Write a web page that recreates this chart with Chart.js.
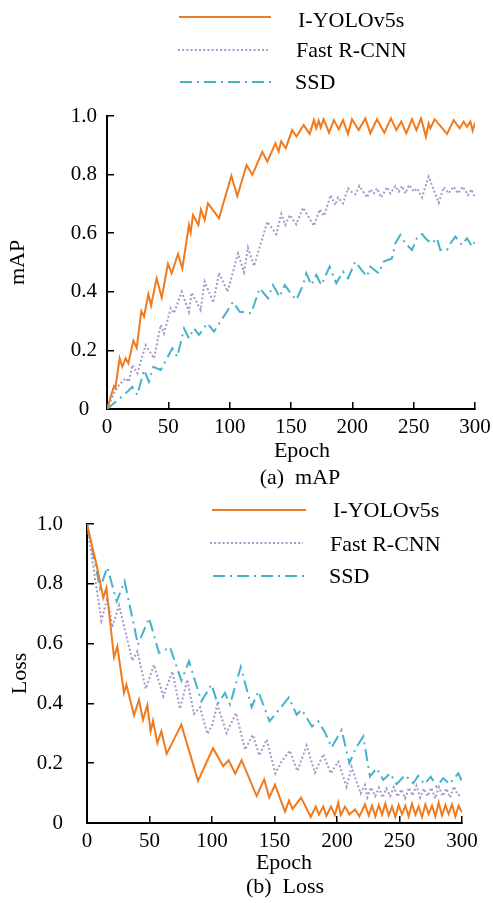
<!DOCTYPE html>
<html>
<head>
<meta charset="utf-8">
<script src="https://cdn.jsdelivr.net/npm/chart.js@4.4.1/dist/chart.umd.min.js"></script>
<style>
  html, body { margin: 0; padding: 0; background: #ffffff; }
  body { width: 493px; height: 903px; position: relative; overflow: hidden; }
  #wrapA { position: absolute; left: 0; top: 0; width: 493px; height: 495px; }
  #wrapB { position: absolute; left: 0; top: 495px; width: 493px; height: 408px; }
</style>
</head>
<body>
<div id="wrapA"><canvas id="chartA" width="493" height="495"></canvas></div>
<div id="wrapB"><canvas id="chartB" width="493" height="408"></canvas></div>
<script>
// ---------------- data ----------------
const seriesNames = ['I-YOLOv5s', 'Fast R-CNN', 'SSD'];
const xTicks = [0, 50, 100, 150, 200, 250, 300];
const yTicks = [0, 0.2, 0.4, 0.6, 0.8, 1.0];

// (a) mAP
const mapYoloEpoch = [0, 5.7, 6.8, 10.3, 12.5, 15.2, 17.4, 21.5, 24.2, 28, 30.2, 33.7, 35.9, 40.5, 44.6, 49.7, 52.7, 57.9, 61.4, 66.8, 68.2, 70.1, 74.5, 76.6, 79.6, 82.3, 91.3, 101.4, 106.2, 113.8, 118.5, 126.6, 130.7, 137.3, 139.9, 142, 145.7, 150.9, 154.5, 160.3, 165.2, 168.7, 170.6, 172.6, 174.2, 176.6, 181, 185, 188.9, 192.4, 196.5, 199.7, 205.2, 210.6, 214.7, 220.1, 226.1, 231.5, 235.9, 239.9, 244, 248.6, 252.2, 256, 260, 262.2, 263.6, 267.1, 277.2, 282.6, 287.5, 290.8, 293.5, 296.2, 298.1, 300];
const mapYoloValue = [0, 0.078, 0.072, 0.173, 0.144, 0.173, 0.156, 0.233, 0.209, 0.334, 0.315, 0.392, 0.353, 0.446, 0.380, 0.495, 0.463, 0.529, 0.480, 0.628, 0.602, 0.662, 0.628, 0.681, 0.645, 0.702, 0.651, 0.796, 0.726, 0.833, 0.799, 0.878, 0.844, 0.907, 0.879, 0.914, 0.890, 0.952, 0.930, 0.969, 0.939, 0.986, 0.958, 0.984, 0.961, 0.989, 0.943, 0.986, 0.955, 0.986, 0.939, 0.989, 0.952, 0.992, 0.941, 0.989, 0.943, 0.992, 0.952, 0.981, 0.941, 0.989, 0.952, 0.992, 0.929, 0.975, 0.958, 0.989, 0.939, 0.986, 0.958, 0.981, 0.963, 0.981, 0.950, 0.977];

const mapRcnnEpoch = [0, 5.7, 9.8, 15.2, 17.9, 20.6, 24.7, 31.5, 38.3, 43.8, 46.5, 51.9, 54.6, 60.9, 66.8, 69, 76.4, 79.6, 86.7, 91.3, 98.3, 106.8, 111.7, 114.9, 119.8, 130.7, 138, 142.1, 145.4, 148.9, 154.3, 159.8, 168.7, 173.4, 176.9, 182.4, 186.1, 188.3, 192.4, 196.5, 199.7, 202.5, 205.7, 212, 214.7, 217.4, 220.1, 223.6, 228.3, 231, 235, 237.8, 240.5, 243.2, 246.4, 250, 252.7, 256.8, 262.2, 270.4, 274.5, 278.5, 282.6, 286.1, 290, 294.3, 297, 300];
const mapRcnnValue = [0, 0.054, 0.082, 0.105, 0.093, 0.150, 0.122, 0.218, 0.173, 0.287, 0.258, 0.344, 0.327, 0.400, 0.332, 0.397, 0.338, 0.435, 0.363, 0.465, 0.400, 0.531, 0.467, 0.551, 0.488, 0.639, 0.597, 0.666, 0.628, 0.662, 0.630, 0.687, 0.625, 0.681, 0.659, 0.730, 0.696, 0.722, 0.702, 0.753, 0.740, 0.733, 0.761, 0.722, 0.750, 0.736, 0.753, 0.722, 0.757, 0.736, 0.761, 0.742, 0.761, 0.736, 0.765, 0.742, 0.753, 0.722, 0.793, 0.704, 0.757, 0.736, 0.759, 0.736, 0.759, 0.730, 0.750, 0.722];

const mapSsdEpoch = [0, 7.1, 13.9, 20.6, 24.7, 30.2, 34.2, 37.8, 43.8, 53.2, 57.3, 62.8, 66.8, 70.9, 75, 81.8, 87.2, 100.3, 102.7, 108.2, 117.6, 121.7, 124.5, 131.2, 135.3, 140.8, 144.9, 148.9, 154.3, 159.8, 162.5, 166.6, 170.6, 174.7, 181.5, 186.9, 192.4, 196.5, 202.4, 206.5, 212, 214.7, 221.5, 225.6, 232.3, 235, 239.1, 243.2, 248.6, 252.7, 256.8, 260.9, 265, 269, 271.7, 277.2, 279.9, 284, 289.4, 293.5, 297.6, 300];
const mapSsdValue = [0, 0.025, 0.048, 0.076, 0.048, 0.133, 0.093, 0.144, 0.133, 0.207, 0.178, 0.275, 0.241, 0.275, 0.253, 0.292, 0.264, 0.349, 0.366, 0.332, 0.327, 0.378, 0.412, 0.378, 0.423, 0.383, 0.423, 0.400, 0.372, 0.423, 0.463, 0.423, 0.457, 0.423, 0.486, 0.429, 0.469, 0.446, 0.503, 0.480, 0.452, 0.486, 0.463, 0.503, 0.514, 0.565, 0.594, 0.565, 0.543, 0.583, 0.597, 0.577, 0.565, 0.583, 0.543, 0.543, 0.565, 0.588, 0.560, 0.583, 0.554, 0.571];

// (b) Loss
const lossYoloEpoch = [0, 8.2, 13, 15.5, 21.6, 24.3, 29.6, 31.5, 37.6, 41.6, 44.8, 48.3, 50.9, 52.8, 56.3, 59.5, 63.7, 75.5, 88.8, 100.8, 109, 113.3, 118.6, 123.7, 135.7, 141.7, 145.8, 150.4, 158.4, 161.6, 164.4, 171.3, 179, 183, 185.5, 189, 191.5, 195.3, 198.2, 201, 203, 206.4, 209.9, 214.4, 217.9, 222.4, 225.4, 228, 230.7, 233.4, 236, 238.7, 241.3, 244, 246.7, 249.3, 252, 254.7, 257.3, 260, 262.7, 265.3, 268, 270.7, 273.3, 276, 278.7, 281.3, 284, 286.7, 289.3, 292, 294.7, 297.3, 300];
const lossYoloValue = [1.0, 0.853, 0.753, 0.786, 0.554, 0.591, 0.435, 0.463, 0.360, 0.412, 0.345, 0.394, 0.307, 0.342, 0.268, 0.307, 0.231, 0.329, 0.141, 0.250, 0.190, 0.210, 0.165, 0.210, 0.090, 0.146, 0.085, 0.128, 0.038, 0.075, 0.047, 0.085, 0.020, 0.055, 0.028, 0.055, 0.024, 0.055, 0.026, 0.068, 0.026, 0.055, 0.029, 0.045, 0.022, 0.062, 0.025, 0.058, 0.022, 0.060, 0.028, 0.065, 0.025, 0.055, 0.020, 0.060, 0.030, 0.058, 0.022, 0.065, 0.028, 0.055, 0.020, 0.062, 0.030, 0.058, 0.022, 0.068, 0.025, 0.060, 0.030, 0.062, 0.022, 0.058, 0.035];

const lossRcnnEpoch = [0, 5.6, 11.5, 16.3, 20.3, 25.6, 36.3, 40.3, 47, 53.6, 61, 68.3, 74.4, 80.3, 85.6, 90.4, 96.3, 100.3, 104.2, 111.7, 119.2, 126.4, 132.6, 137.9, 143.7, 150.7, 155.7, 162.2, 168.3, 175.7, 182.4, 189, 195, 201, 207.7, 211.7, 218.9, 222.4, 224.3, 227.2, 230.6, 233.5, 236.5, 239.5, 242.5, 245.5, 248.5, 251.5, 254.5, 257.5, 260.5, 263.5, 266.5, 269.5, 272.5, 275.5, 278.5, 281.5, 284.5, 287.5, 290.5, 293.5, 296.5, 300];
const lossRcnnValue = [1.0, 0.842, 0.677, 0.753, 0.655, 0.728, 0.543, 0.574, 0.449, 0.529, 0.424, 0.507, 0.382, 0.479, 0.365, 0.387, 0.298, 0.329, 0.396, 0.301, 0.368, 0.245, 0.295, 0.226, 0.279, 0.166, 0.206, 0.242, 0.174, 0.259, 0.168, 0.230, 0.166, 0.205, 0.121, 0.188, 0.099, 0.127, 0.086, 0.119, 0.090, 0.118, 0.085, 0.115, 0.090, 0.120, 0.088, 0.112, 0.082, 0.118, 0.092, 0.125, 0.085, 0.115, 0.090, 0.118, 0.082, 0.120, 0.090, 0.115, 0.085, 0.122, 0.095, 0.090];

const lossSsdEpoch = [0, 5.6, 10.4, 16.3, 23.7, 30.1, 40.8, 49.6, 57.6, 66.4, 75.5, 81.6, 91.5, 99.7, 104.5, 110.4, 114.4, 123, 131.7, 137, 146, 150, 161.5, 167.7, 171.7, 180, 185, 190.4, 195.7, 203.7, 209.9, 215, 221, 226.4, 231.7, 237, 242.4, 247.7, 254.4, 261, 265, 270, 275, 279.7, 285, 290, 297, 300];
const lossSsdValue = [1.0, 0.886, 0.786, 0.855, 0.741, 0.808, 0.596, 0.686, 0.569, 0.588, 0.476, 0.541, 0.407, 0.463, 0.398, 0.435, 0.396, 0.522, 0.387, 0.440, 0.340, 0.360, 0.420, 0.362, 0.379, 0.323, 0.340, 0.303, 0.253, 0.311, 0.200, 0.250, 0.289, 0.155, 0.183, 0.144, 0.166, 0.130, 0.160, 0.133, 0.158, 0.130, 0.155, 0.121, 0.150, 0.130, 0.166, 0.140];

// ---------------- styles ----------------
const FONT = '"Liberation Serif", "DejaVu Serif", serif';
const colors = ['#F07A1E', '#A898C8', '#45B2CA'];
const dashes = [[], [2, 2.2], [12, 5, 2, 5]];
const widths = [2, 2, 2];

function pts(xs, ys) { return xs.map((x, i) => ({ x: x, y: ys[i] })); }

function makeDatasets(list) {
  return list.map((d, i) => ({
    label: seriesNames[i],
    data: pts(d[0], d[1]),
    borderColor: colors[i],
    backgroundColor: colors[i],
    borderWidth: widths[i],
    borderDash: dashes[i],
    pointRadius: 0,
    tension: 0,
    fill: false
  }));
}

function overlayPlugin(o) {
  return {
    id: 'overlay' + o.id,
    afterDraw(chart) {
      const ctx = chart.ctx;
      ctx.save();
      o.legend.forEach((L, i) => {
        ctx.beginPath();
        ctx.setLineDash(dashes[i]);
        ctx.strokeStyle = colors[i];
        ctx.lineWidth = widths[i];
        ctx.moveTo(L.x1, L.y);
        ctx.lineTo(L.x2, L.y);
        ctx.stroke();
        ctx.setLineDash([]);
        ctx.fillStyle = '#000';
        ctx.font = '22px ' + FONT;
        ctx.textAlign = 'left';
        ctx.textBaseline = 'alphabetic';
        ctx.fillText(seriesNames[i], L.tx, L.ty);
      });
      ctx.fillStyle = '#000';
      ctx.font = '22px ' + FONT;
      ctx.textAlign = 'center';
      ctx.textBaseline = 'alphabetic';
      ctx.fillText('Epoch', o.epoch.x, o.epoch.y);
      ctx.fillText(o.caption.text, o.caption.x, o.caption.y);
      ctx.restore();
    }
  };
}

function makeChart(canvasId, datasets, yTitle, box, overlay) {
  return new Chart(document.getElementById(canvasId), {
    type: 'line',
    data: { datasets: datasets },
    options: {
      responsive: false,
      animation: false,
      events: [],
      layout: { padding: { left: 0, right: box.right, top: box.top, bottom: 0 } },
      plugins: { legend: { display: false }, tooltip: { enabled: false }, title: { display: false } },
      scales: {
        x: {
          type: 'linear', min: 0, max: 300,
          afterFit(s) { s.height = box.xh; s.paddingLeft = 0; s.paddingRight = 0; },
          afterBuildTicks(s) { s.ticks = xTicks.map(v => ({ value: v })); },
          ticks: { autoSkip: false, maxRotation: 0, color: '#000', font: { family: FONT, size: 21 }, padding: box.xpad, callback: v => String(v) },
          grid: { drawOnChartArea: false, drawTicks: true, tickLength: -7, color: '#000', lineWidth: 1.5 },
          border: { display: true, color: '#000', width: 2 }
        },
        y: {
          type: 'linear', min: 0, max: 1,
          afterFit(s) { s.width = box.yw; s.paddingTop = 0; s.paddingBottom = 0; },
          afterBuildTicks(s) { s.ticks = yTicks.map(v => ({ value: v })); },
          ticks: { autoSkip: false, color: '#000', font: { family: FONT, size: 21 }, padding: box.ypad, crossAlign: box.yalign, callback: v => (v === 0 ? '0' : Number(v).toFixed(1)) },
          grid: { drawOnChartArea: false, drawTicks: true, tickLength: -7, color: '#000', lineWidth: 1.5 },
          border: { display: true, color: '#000', width: 2 },
          title: { display: true, text: yTitle, color: '#000', font: { family: FONT, size: 22 }, padding: { top: box.ytp, bottom: 0 } }
        }
      }
    },
    plugins: [overlayPlugin(overlay)]
  });
}

makeChart('chartA',
  makeDatasets([[mapYoloEpoch, mapYoloValue], [mapRcnnEpoch, mapRcnnValue], [mapSsdEpoch, mapSsdValue]]),
  'mAP',
  { right: 18, top: 116, xh: 86, yw: 107, xpad: 13, ypad: 17, ytp: 5, yalign: 'center' },
  {
    id: 'A',
    legend: [
      { x1: 179, x2: 271, y: 17, tx: 298, ty: 27 },
      { x1: 178, x2: 268, y: 50, tx: 296, ty: 57 },
      { x1: 180, x2: 273, y: 82, tx: 295, ty: 89 }
    ],
    epoch: { x: 302, y: 457 },
    caption: { text: '(a)  mAP', x: 300, y: 484 }
  });

makeChart('chartB',
  makeDatasets([[lossYoloEpoch, lossYoloValue], [lossRcnnEpoch, lossRcnnValue], [lossSsdEpoch, lossSsdValue]]),
  'Loss',
  { right: 31, top: 29, xh: 80, yw: 87, xpad: 13, ypad: 31, ytp: 7, yalign: 'near' },
  {
    id: 'B',
    legend: [
      { x1: 212, x2: 306, y: 15, tx: 333, ty: 22 },
      { x1: 210, x2: 303, y: 48, tx: 330, ty: 55.5 },
      { x1: 213, x2: 307, y: 81, tx: 329, ty: 88 }
    ],
    epoch: { x: 284, y: 374 },
    caption: { text: '(b)  Loss', x: 285, y: 398 }
  });
</script>
</body>
</html>
